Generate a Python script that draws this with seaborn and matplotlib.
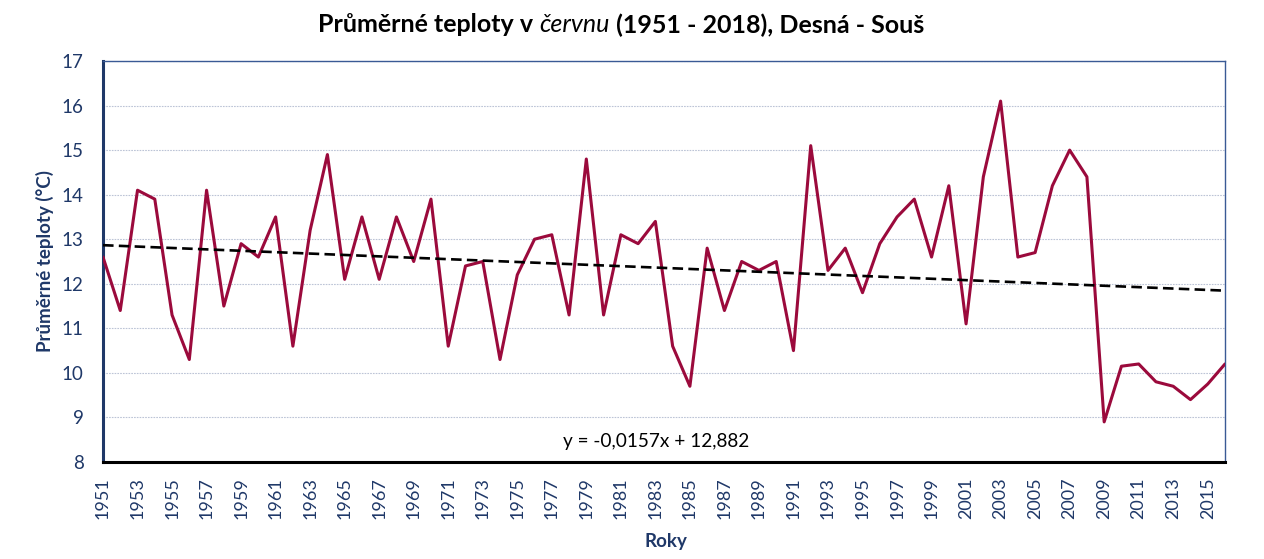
import numpy as np
import pandas as pd
import matplotlib
matplotlib.use("Agg")
import matplotlib.pyplot as plt
import seaborn as sns

# Average June temperatures, Desná - Souš
years = list(range(1951, 2017))
temps = [
    12.6, 11.4, 14.1, 13.9, 11.3, 10.3, 14.1, 11.5, 12.9, 12.6,
    13.5, 10.6, 13.2, 14.9, 12.1, 13.5, 12.1, 13.5, 12.5, 13.9,
    10.6, 12.4, 12.5, 10.3, 12.2, 13.0, 13.1, 11.3, 14.8, 11.3,
    13.1, 12.9, 13.4, 10.6, 9.7, 12.8, 11.4, 12.5, 12.3, 12.5,
    10.5, 15.1, 12.3, 12.8, 11.8, 12.9, 13.5, 13.9, 12.6, 14.2,
    11.1, 14.4, 16.1, 12.6, 12.7, 14.2, 15.0, 14.4, 8.9, 10.15,
    10.2, 9.8, 9.7, 9.4, 9.75, 10.2,
]
# Linear trend y = a*x + b, x = 1..n
trend_slope = -0.0157
trend_intercept = 12.882

title_parts = ["Průměrné teploty v ", "červnu", " (1951 - 2018), Desná - Souš"]
y_label = "Průměrné teploty (°C)"
x_label = "Roky"
y_ticks = list(range(8, 18))

NAVY = "#1f3868"
LINE = "#9b0a3c"
W, H = 1264, 559
AX_L, AX_R, AX_T, AX_B = 103, 1225, 61, 462

sns.set_style("white")
plt.rcParams["font.family"] = ["Lato", "DejaVu Sans"]

df = pd.DataFrame({"idx": np.arange(len(years)), "temp": temps})
df["trend"] = trend_slope * (df["idx"] + 1) + trend_intercept

fig = plt.figure(figsize=(W / 100, H / 100), dpi=100)
ax = fig.add_axes([AX_L / W, 1 - AX_B / H, (AX_R - AX_L) / W, (AX_B - AX_T) / H])

ax.set_axisbelow(True)
ax.yaxis.grid(True, color="#bcc4d6", linewidth=0.8, linestyle=(0, (1.5, 1)))
ax.xaxis.grid(False)

sns.lineplot(data=df, x="idx", y="temp", ax=ax, color=LINE, linewidth=2.2, zorder=3)
sns.lineplot(data=df, x="idx", y="trend", ax=ax, color="black", linewidth=1.9,
             linestyle=(0, (4, 2)), zorder=4)

ax.set_xlim(0, len(years) - 1)
ax.set_ylim(8, 17)
ax.set_yticks(y_ticks)
ax.set_yticklabels([str(v) for v in y_ticks], color=NAVY, fontsize=13.5)
xt = np.arange(0, len(years), 2)
ax.set_xticks(xt)
ax.set_xticklabels([str(years[i]) for i in xt], rotation=90, color=NAVY, fontsize=13)
ax.tick_params(axis="y", direction="out", length=5, width=1.5, color=NAVY, pad=9)
ax.tick_params(axis="x", length=0, pad=11)

for side in ("top", "right"):
    ax.spines[side].set_color("#3a5a95")
    ax.spines[side].set_linewidth(1.0)
ax.spines["left"].set_color(NAVY)
ax.spines["left"].set_linewidth(2.2)
ax.spines["bottom"].set_color("black")
ax.spines["bottom"].set_linewidth(2.2)

ax.set_xlabel(x_label, color=NAVY, fontsize=13.5, fontweight="bold")
ax.xaxis.label.set_va("center")
ax.xaxis.set_label_coords((666 - AX_L) / (AX_R - AX_L), (AX_B - 541) / (AX_B - AX_T))
ax.set_ylabel(y_label, color=NAVY, fontsize=13.5, fontweight="bold")
ax.yaxis.label.set_va("center")
ax.yaxis.set_label_coords((45 - AX_L) / (AX_R - AX_L), 0.5)

ax.text((656 - AX_L) / (AX_R - AX_L), (AX_B - 441) / (AX_B - AX_T),
        "y = -0,0157x + 12,882", transform=ax.transAxes,
        ha="center", va="center", fontsize=13.7, color="black", zorder=5)

# Title with the month name in italics, composed from pieces
fig.canvas.draw()
renderer = fig.canvas.get_renderer()
styles = [("normal", "bold"), ("italic", "normal"), ("normal", "bold")]
pieces = []
for txt, (st, wt) in zip(title_parts, styles):
    t = fig.text(0, 1 - 25 / H, txt, fontsize=18, fontstyle=st, fontweight=wt,
                 color="black", ha="left", va="center")
    pieces.append(t)
widths = [p.get_window_extent(renderer).width for p in pieces]
x0 = 621 - sum(widths) / 2
for p, w in zip(pieces, widths):
    p.set_x(x0 / W)
    x0 += w

fig.savefig("out.png", dpi=100, facecolor="white")
